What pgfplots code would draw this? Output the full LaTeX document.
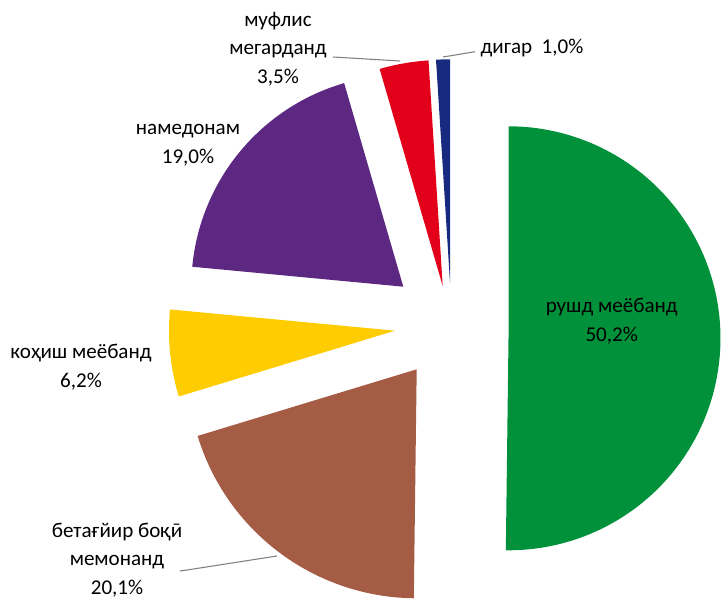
\documentclass[border=0pt]{standalone}
\usepackage{fontspec}
\setmainfont{Carlito}
\usepackage{pgfplots}
\pgfplotsset{compat=1.18}
\definecolor{cgreen}{RGB}{0,145,58}
\definecolor{cbrown}{RGB}{164,92,68}
\definecolor{cyellow}{RGB}{255,204,0}
\definecolor{cpurple}{RGB}{93,40,130}
\definecolor{cred}{RGB}{226,0,26}
\definecolor{cblue}{RGB}{24,42,128}
\tikzset{lbl/.style={font={\fontsize{15.8}{21.4}\selectfont}, align=center, text=black, inner sep=0pt}}
% colour, share before (%), share (%), apex x, apex y, radius
\newcommand{\slice}[6]{%
  \addplot[fill=#1, draw=none, domain={90-3.6*(#2+#3)}:{90-3.6*(#2)}, samples=120, variable=\t]
    ({#4+#6*cos(\t)}, {#5+#6*sin(\t)}) -- (axis cs:#4,#5) -- cycle;
}
\begin{document}
\begin{tikzpicture}
\begin{axis}[x=0.75pt, y=0.75pt, xmin=0, xmax=722, ymin=0, ymax=600,
  hide axis, anchor=origin, at={(0,0)}, clip=true]
\slice{cgreen}{0}{50.2}{508.5}{261.7}{212}
\slice{cbrown}{50.2}{20.1}{416.7}{230.7}{229}
\slice{cyellow}{70.3}{6.2}{395}{269.3}{226}
\slice{cpurple}{76.5}{19.0}{403.3}{313.3}{212}
\slice{cred}{95.5}{3.5}{442.7}{314}{226}
\slice{cblue}{99.0}{1.0}{450}{317.7}{223}
% leader lines
\addplot[gray, line width=0.8pt, no marks] coordinates {(333,543) (400,539)};
\addplot[gray, line width=0.8pt, no marks] coordinates {(443,543) (475,548.3)};
\addplot[gray, line width=0.8pt, no marks] coordinates {(180,29) (187,30) (277,44)};
% labels
\node[lbl] at (axis cs:611.7,279) {рушд меёбанд\\50,2\%};
\node[lbl] at (axis cs:117,40) {бетағйир боқӣ\\мемонанд\\20,1\%};
\node[lbl] at (axis cs:81,233) {коҳиш меёбанд\\6,2\%};
\node[lbl] at (axis cs:188,455) {намедонам\\19,0\%};
\node[lbl] at (axis cs:278,551) {муфлис\\мегарданд\\3,5\%};
\node[lbl] at (axis cs:532,552) {дигар\ \ 1,0\%};
\end{axis}
\pgfresetboundingbox
\path[use as bounding box] (0,0) rectangle (541.5pt,450pt);
\end{tikzpicture}
\end{document}
